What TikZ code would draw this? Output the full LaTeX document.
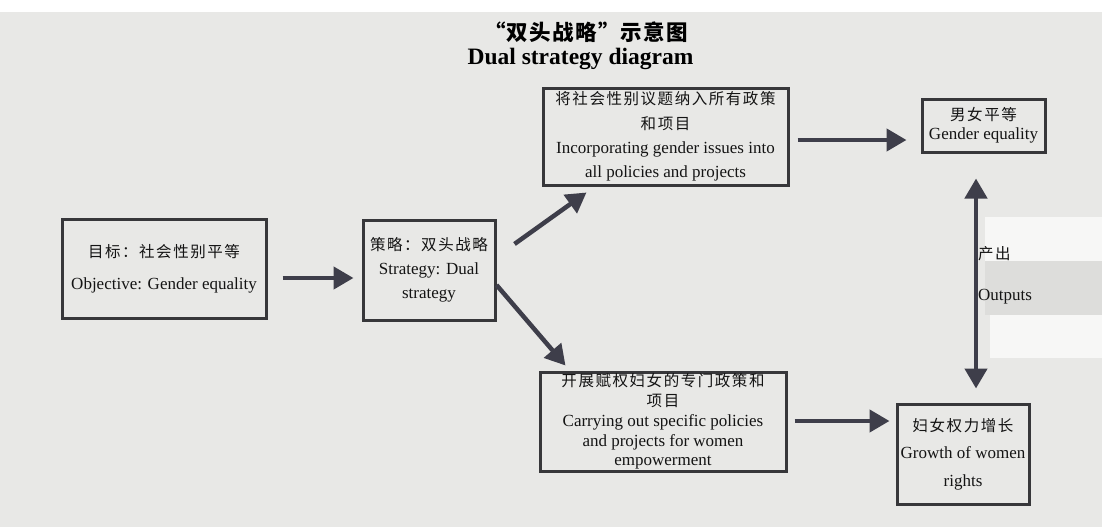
\documentclass[tikz,border=0pt]{standalone}
\usepackage{fontspec}
\setmainfont{Liberation Serif}
\newfontfamily\cjk{Noto Sans CJK SC}[LetterSpace=10]
\newfontfamily\cjktitle{Noto Sans CJK SC}[LetterSpace=6]
\usetikzlibrary{arrows.meta}
\definecolor{bgc}{RGB}{232,232,230}
\definecolor{bandc}{RGB}{221,221,219}
\definecolor{patchc}{RGB}{247,247,246}
\definecolor{linec}{RGB}{55,55,58}
\definecolor{arrc}{RGB}{62,62,74}
\definecolor{txtc}{RGB}{20,20,20}
\begin{document}
\begin{tikzpicture}[x=1pt,y=-1pt,
  box/.style={draw=linec, line width=3pt, align=center, inner sep=0pt, text=txtc,
              font=\fontsize{17}{#1}\selectfont},
  zh/.style={},
  lbl/.style={inner sep=0pt, text=txtc, font=\fontsize{17}{17}\selectfont, anchor=west},
  bigarrow/.style={draw=arrc, line width=4.5pt, -{Triangle[length=20pt,width=22pt]}},
  dblarrow/.style={draw=arrc, line width=4.5pt, {Triangle[length=20pt,width=22pt]}-{Triangle[length=20pt,width=22pt]}}
]
% background (scan)
\fill[white] (0,0) rectangle (1102,527);
\fill[bgc] (0,12) rectangle (1102,527);
\fill[patchc] (985,217) rectangle (1102,261);
\fill[bandc] (985,261) rectangle (1102,315);
\fill[patchc] (990,315) rectangle (1102,358);
\useasboundingbox (0,0) rectangle (1102,527);

% title
\node[inner sep=0pt, text=black, font=\fontsize{21.5}{21.5}\cjktitle\bfseries] (t1) at (586,32) {“双头战略”示意图};
\node[inner sep=0pt, text=black, font=\fontsize{23.5}{24}\selectfont\bfseries] (t2) at (580.5,59) {Dual strategy diagram};

% boxes
\node[box=32, minimum width=204pt, minimum height=99pt] (b1) at (164,268.5)
  {{\fontsize{15.5}{15.5}\cjk 目标：社会性别平等}\\Objective: Gender equality};
\node[box=24, minimum width=132pt, minimum height=100pt] (b2) at (429,270)
  {{\fontsize{15.5}{15.5}\cjk 策略：双头战略}\\Strategy: Dual\\strategy};
\node[box=24.3, minimum width=245pt, minimum height=97pt] (b3) at (665.5,136.5)
  {{\fontsize{15.5}{15.5}\cjk 将社会性别议题纳入所有政策}\\{\fontsize{15.5}{15.5}\cjk 和项目}\\Incorporating gender issues into\\all policies and projects};
\node[box=19, minimum width=123pt, minimum height=53pt] (b4) at (983.5,125.5)
  {{\fontsize{15.5}{15.5}\cjk 男女平等}\\Gender equality};
\node[box=19.8, minimum width=246pt, minimum height=99pt] (b5) at (663,421.5)
  {{\fontsize{15.5}{15.5}\cjk 开展赋权妇女的专门政策和}\\{\fontsize{15.5}{15.5}\cjk 项目}\\Carrying out specific policies\\and projects for women\\empowerment};
\node[box=27.5, minimum width=132pt, minimum height=100pt] (b6) at (963,454)
  {{\fontsize{15.5}{15.5}\cjk 妇女权力增长}\\Growth of women\\rights};

% connectors
\draw[bigarrow] ([shift={(15,9.5)}]b1.east) -- ([shift={(-8,8)}]b2.west);
\draw[bigarrow] ([shift={(18,-26)}]b2.east) -- ([shift={(45,6)}]b3.south west);
\draw[bigarrow] ([shift={(0,15)}]b2.east) -- ([shift={(27,-5)}]b5.north west);
\draw[bigarrow] ([shift={(8,3.5)}]b3.east) -- ([shift={(-14,14.5)}]b4.west);
\draw[bigarrow] ([shift={(7,-0.5)}]b5.east) -- ([shift={(-6,-33)}]b6.west);
\draw[dblarrow] ([shift={(-7.5,25)}]b4.south) -- ([shift={(13,-14)}]b6.north);

% arrow labels
\node[lbl] (o1) at (978,254) {\fontsize{15.5}{15.5}\cjk 产出};
\node[lbl] (o2) at (978,297) {Outputs};
\end{tikzpicture}
\end{document}
